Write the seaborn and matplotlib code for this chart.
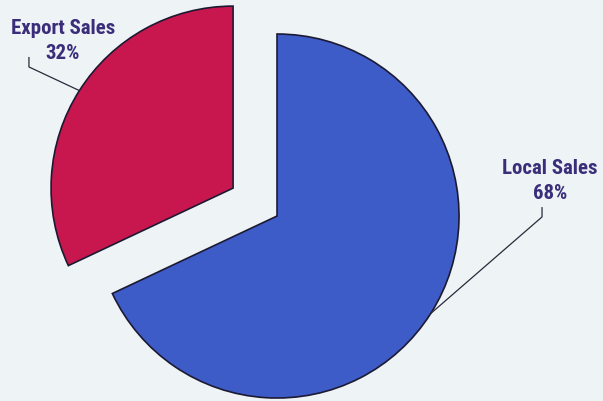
import numpy as np
import matplotlib
matplotlib.use("Agg")
import matplotlib.pyplot as plt
import seaborn as sns

# Sales split
categories = ["Local Sales", "Export Sales"]
shares = [68, 32]
explode_amounts = [0.0, 0.286]

sns.set_theme(style="white")
plt.rcParams["font.family"] = ["Roboto Condensed", "DejaVu Sans Condensed", "Roboto", "DejaVu Sans"]

bg = "#eef3f6"
colors = ["#3d5cc8", "#c8174e"]
edge = "#1c1a33"
text_color = "#3a2e7a"

fig = plt.figure(figsize=(6.03, 4.02), dpi=100, facecolor=bg)
ax = fig.add_axes([0, 0, 1, 1])
ax.set_facecolor(bg)

wedges, _ = ax.pie(
    shares,
    explode=explode_amounts,
    colors=colors,
    startangle=90,
    counterclock=False,
    radius=1.0,
    wedgeprops=dict(edgecolor=edge, linewidth=1.2),
)

ax.set_xlim(-1.522, 1.791)
ax.set_ylim(-1.016, 1.192)
ax.set_aspect("equal")
ax.axis("off")

# Label layout: text centre and leader elbow/top points
label_layout = {
    "Export Sales": dict(text=(-1.176, 0.968), elbow=(-1.363, 0.819), top=(-1.363, 0.874)),
    "Local Sales": dict(text=(1.50, 0.198), elbow=(1.456, -0.005), top=(1.456, 0.049)),
}

for w, name, share in zip(wedges, categories, shares):
    mid = np.deg2rad((w.theta1 + w.theta2) / 2)
    cx, cy = w.center
    anchor = (cx + w.r * np.cos(mid), cy + w.r * np.sin(mid))
    lay = label_layout[name]
    xs = [anchor[0], lay["elbow"][0], lay["top"][0]]
    ys = [anchor[1], lay["elbow"][1], lay["top"][1]]
    ax.plot(xs, ys, color="#2a2a3a", linewidth=0.9, solid_capstyle="butt")
    ax.text(lay["text"][0], lay["text"][1], f"{name}\n{share}%",
            ha="center", va="center", fontsize=15, fontweight="bold",
            fontstretch="condensed", color=text_color, linespacing=1.4)

fig.savefig("out.png", dpi=100, facecolor=bg)
